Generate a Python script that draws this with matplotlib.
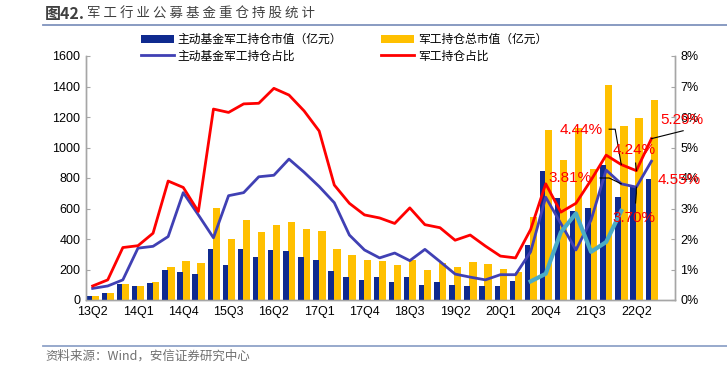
import matplotlib
matplotlib.use("Agg")
import matplotlib.pyplot as plt
from matplotlib.lines import Line2D
from matplotlib.patches import Patch
import numpy as np

plt.rcParams['font.family'] = ['Liberation Sans', 'Noto Sans CJK SC', 'DejaVu Sans']

# ---------------- data ----------------
quarters = ['13Q2', '13Q3', '13Q4', '14Q1', '14Q2', '14Q3', '14Q4', '15Q1', '15Q2', '15Q3',
            '15Q4', '16Q1', '16Q2', '16Q3', '16Q4', '17Q1', '17Q2', '17Q3', '17Q4', '18Q1',
            '18Q2', '18Q3', '18Q4', '19Q1', '19Q2', '19Q3', '19Q4', '20Q1', '20Q2', '20Q3',
            '20Q4', '21Q1', '21Q2', '21Q3', '21Q4', '22Q1', '22Q2', '22Q3']

# 主动基金军工持仓市值（亿元）
active_value = [26, 44, 103, 92, 109, 197, 186, 173, 332, 230,
                332, 280, 328, 320, 280, 264, 192, 154, 134, 152,
                117, 149, 100, 118, 98, 92, 92, 92, 127, 358,
                848, 672, 584, 601, 885, 673, 748, 791]

# 军工持仓总市值（亿元）
total_value = [28, 45, 103, 92, 120, 218, 256, 245, 605, 400,
               525, 444, 490, 509, 466, 452, 334, 295, 265, 258,
               230, 262, 197, 240, 218, 249, 236, 203, 186, 543,
               1115, 918, 1130, 857, 1410, 1141, 1196, 1311]

# 主动基金军工持仓占比 (%)
active_ratio = [0.38, 0.46, 0.66, 1.70, 1.76, 2.08, 3.52, 2.79, 2.04, 3.42,
                3.52, 4.04, 4.09, 4.62, 4.19, 3.72, 3.19, 2.13, 1.64, 1.38,
                1.54, 1.29, 1.66, 1.26, 0.85, 0.75, 0.66, 0.83, 0.83, 1.58,
                3.37, 2.51, 1.64, 2.62, 4.26, 3.81, 3.70, 4.55]

# 军工持仓占比 (%)
total_ratio = [0.46, 0.66, 1.72, 1.78, 2.19, 3.90, 3.69, 2.90, 6.26, 6.15,
               6.43, 6.45, 6.94, 6.72, 6.20, 5.54, 3.77, 3.17, 2.79, 2.69,
               2.51, 3.02, 2.47, 2.37, 1.96, 2.13, 1.77, 1.44, 1.38, 2.31,
               3.81, 2.88, 3.17, 3.93, 4.75, 4.44, 4.24, 5.29]

# unlabeled teal series (20Q3 - 22Q1), %
teal_start = 29
teal_ratio = [0.61, 0.86, 2.22, 2.84, 1.58, 1.90, 2.92]

left_ticks = [0, 200, 400, 600, 800, 1000, 1200, 1400, 1600]
right_ticks = [0, 1, 2, 3, 4, 5, 6, 7, 8]

# annotation labels: (index, series, text)
annotations = [
    (35, 'red', '4.44%'),
    (36, 'red', '4.24%'),
    (37, 'red', '5.29%'),
    (35, 'blue', '3.81%'),
    (36, 'blue', '3.70%'),
    (37, 'blue', '4.55%'),
]

# ---------------- style ----------------
C_NAVY = '#0F2A8F'
C_YELLOW = '#FFC000'
C_BLUE_LINE = '#4040B4'
C_RED = '#FF0000'
C_TEAL = '#4BACC6'
C_AXIS = '#A6A6A6'

fig = plt.figure(figsize=(7.27, 3.80), dpi=100)
ax = fig.add_axes([86/727, 80/380, (675-86)/727, (300-56)/380])
ax2 = ax.twinx()

x = np.arange(len(quarters))
ax.bar(x - 0.21, active_value, width=0.36, color=C_NAVY, zorder=3)
ax.bar(x + 0.18, total_value, width=0.48, color=C_YELLOW, zorder=2)

ax.set_xlim(-0.44, 38.56)
ax.set_ylim(0, 1600)
ax.set_yticks(left_ticks)
ax.set_yticklabels([str(v) for v in left_ticks], fontsize=9)
ax.set_xticks(x[::3])
ax.set_xticklabels(quarters[::3], fontsize=9)
ax.tick_params(axis='x', length=0, pad=4)
ax.tick_params(axis='y', direction='in', length=3, color=C_AXIS, pad=4)

ax2.set_ylim(0, 8)
ax2.set_yticks(right_ticks)
ax2.set_yticklabels([f'{v}%' for v in right_ticks], fontsize=9)
ax2.tick_params(axis='y', direction='in', length=3, color=C_AXIS, pad=4)

ax2.plot(x, active_ratio, color=C_BLUE_LINE, lw=2.0, zorder=4)
ax2.plot(x, total_ratio, color=C_RED, lw=2.0, zorder=5)
xt = np.arange(teal_start, teal_start + len(teal_ratio))
ax2.plot(xt, teal_ratio, color=C_TEAL, lw=3.0, zorder=4)

for a in (ax, ax2):
    a.spines['top'].set_visible(False)
    for s in ('left', 'right', 'bottom'):
        a.spines[s].set_color(C_AXIS)
        a.spines[s].set_linewidth(1.0)
ax.patch.set_visible(False)
ax.set_zorder(ax2.get_zorder() - 1)
ax2.patch.set_visible(False)

# annotation text placement (data coords) and leader paths
ann_layout = {
    (35, 'red'):  dict(xy=(33.8, 5.57), ha='right', path=[(34.2, 5.60), (34.6, 5.60)]),
    (36, 'red'):  dict(xy=(34.45, 4.92), ha='left', path=[(35.95, 4.49)]),
    (37, 'red'):  dict(xy=(37.6, 5.90), ha='left', path=[(39.1, 5.55)]),
    (35, 'blue'): dict(xy=(30.15, 4.00), ha='left', path=[(33.6, 4.00), (34.2, 4.00)]),
    (36, 'blue'): dict(xy=(34.45, 2.69), ha='left', path=[(35.95, 3.18), (36.0, 3.50)]),
    (37, 'blue'): dict(xy=(37.4, 3.93), ha='left', path=None),
}
series_map = {'red': total_ratio, 'blue': active_ratio}
for idx, ser, txt in annotations:
    lay = ann_layout[(idx, ser)]
    yv = series_map[ser][idx]
    ax2.text(lay['xy'][0], lay['xy'][1], txt, color=C_RED, fontsize=11,
             ha=lay['ha'], va='center', zorder=7, clip_on=False)
    if lay['path'] is not None:
        px = [p[0] for p in lay['path']] + [idx]
        py = [p[1] for p in lay['path']] + [yv]
        ax2.plot(px, py, color='black', lw=0.8, zorder=6, clip_on=False)

# legend
handles = [Patch(facecolor=C_NAVY, edgecolor='none'),
           Line2D([], [], color=C_BLUE_LINE, lw=2.0),
           Patch(facecolor=C_YELLOW, edgecolor='none'),
           Line2D([], [], color=C_RED, lw=2.0)]
labels = ['主动基金军工持仓市值（亿元）', '主动基金军工持仓占比',
          '军工持仓总市值（亿元）', '军工持仓占比']
leg = fig.legend(handles, labels, ncol=2, loc='upper left',
                 bbox_to_anchor=(141/727, 1 - 33/380), frameon=False,
                 prop={'family': ['Noto Sans CJK SC'], 'size': 8.5},
                 handlelength=2.8, handleheight=0.7, handletextpad=0.3,
                 columnspacing=3.3, labelspacing=0.3, borderpad=0.0,
                 borderaxespad=0.0)

# title & separators
fig.text(45/727, 1 - 14/380, '图42.', fontsize=11.5, fontweight='bold', color='#404040',
         va='center', ha='left', family=['Noto Sans CJK SC'])
fig.text(87/727, 1 - 14/380, '军 工 行 业 公 募 基 金 重 仓 持 股 统 计', fontsize=9.7,
         color='#404040', va='center', ha='left', family=['Noto Sans CJK SC'])
fig.add_artist(Line2D([43/727, 1.0], [1 - 25/380, 1 - 25/380], color='#7F93BD', lw=1.3,
                      transform=fig.transFigure))
fig.add_artist(Line2D([43/727, 1.0], [1 - 346/380, 1 - 346/380], color='#8FA2C8', lw=1.3,
                      transform=fig.transFigure))
fig.text(45/727, 1 - 356/380, '资料来源：Wind，安信证券研究中心', fontsize=9, color='#707070',
         va='center', ha='left', style='italic', family=['Noto Sans CJK SC'])

fig.savefig('out.png', dpi=100)
